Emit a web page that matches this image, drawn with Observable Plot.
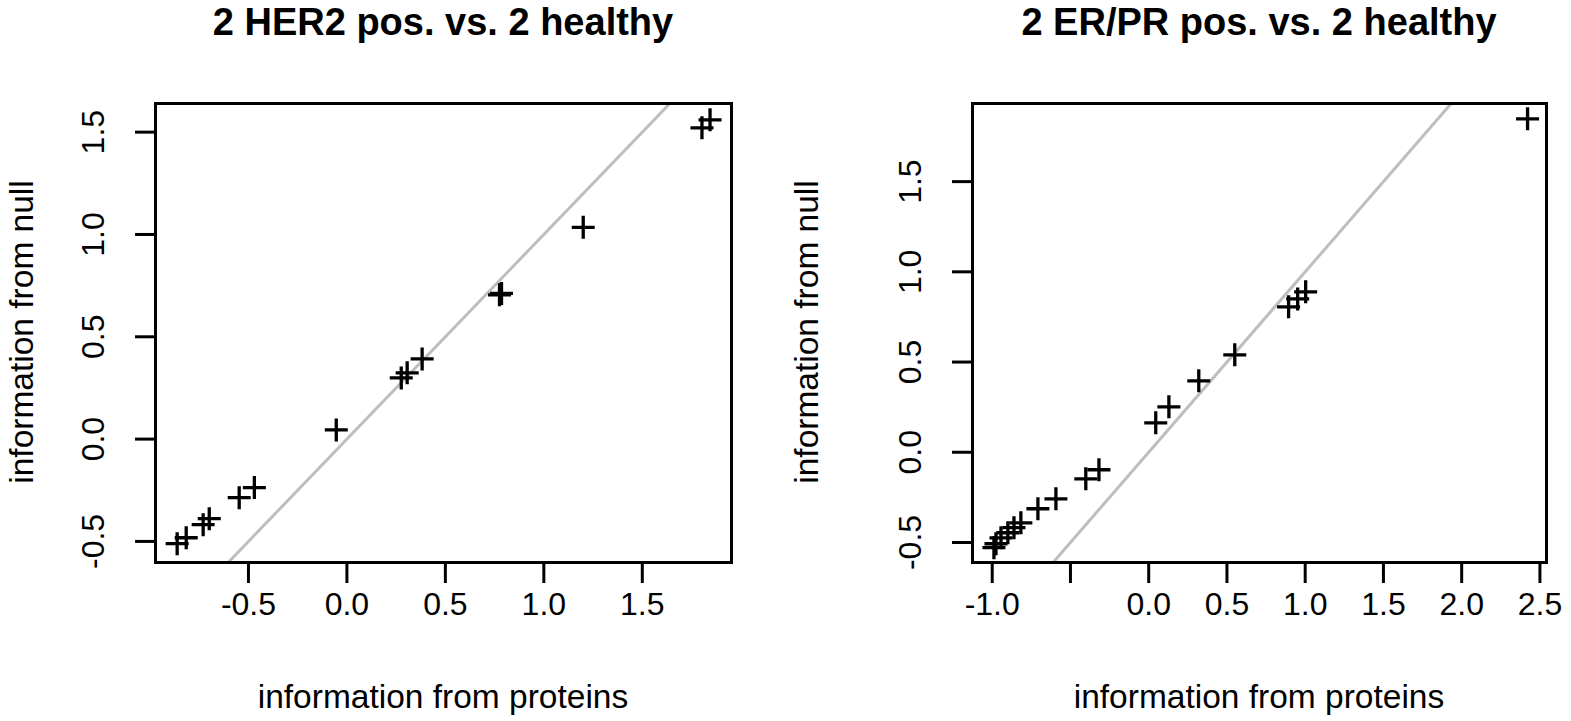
<!DOCTYPE html>
<html>
<head>
<meta charset="utf-8">
<script src="https://cdn.jsdelivr.net/npm/d3@7"></script>
<script src="https://cdn.jsdelivr.net/npm/@observablehq/plot@0.6"></script>
<style>
  html, body { margin: 0; padding: 0; background: #fff; }
  #wrap { position: relative; width: 1571px; height: 721px; overflow: hidden; font-family: "Liberation Sans", Arial, sans-serif; color: #000; }
  .title { position: absolute; text-align: center; font-weight: bold; font-size: 38px; line-height: 44px; white-space: nowrap; }
  .xlab { position: absolute; text-align: center; font-size: 33.5px; line-height: 38px; white-space: nowrap; }
  .ylab { position: absolute; font-size: 33.5px; line-height: 38px; white-space: nowrap; transform-origin: center center; }
  .panel { position: absolute; }
</style>
</head>
<body>
<div id="wrap"></div>
<script>
// ---------- data ----------
const titles = ["2 HER2 pos. vs. 2 healthy", "2 ER/PR pos. vs. 2 healthy"];
const xLabel = "information from proteins";
const yLabel = "information from null";

// panel 1: HER2 positive vs healthy
const her2X = [1.803, 1.844, 1.200, 0.775, 0.785, 0.276, 0.306, 0.382, -0.054, -0.470, -0.547, -0.699, -0.730, -0.816, -0.862];
const her2Y = [1.521, 1.560, 1.035, 0.705, 0.712, 0.299, 0.324, 0.392, 0.045, -0.237, -0.286, -0.389, -0.418, -0.482, -0.511];

// panel 2: ER/PR positive vs healthy
const erprX = [2.421, 1.003, 0.952, 0.894, 0.550, 0.320, 0.129, 0.045, -0.318, -0.402, -0.593, -0.708, -0.817, -0.861, -0.900, -0.944, -0.976, -0.989];
const erprY = [1.848, 0.889, 0.850, 0.806, 0.540, 0.396, 0.252, 0.163, -0.097, -0.147, -0.258, -0.313, -0.391, -0.418, -0.446, -0.474, -0.507, -0.529];

// axis ticks
const her2XTicks = [-0.5, 0.0, 0.5, 1.0, 1.5];
const her2YTicks = [-0.5, 0.0, 0.5, 1.0, 1.5];
const erprXTicks = [-1.0, -0.5, 0.0, 0.5, 1.0, 1.5, 2.0, 2.5];
const erprYTicks = [-0.5, 0.0, 0.5, 1.0, 1.5];
const erprXHidden = [-0.5]; // label dropped by R (overlap)

// axis domains (R's 4% padded ranges)
const her2XDomain = [-0.972, 1.953];
const her2YDomain = [-0.603, 1.640];
const erprXDomain = [-1.126, 2.542];
const erprYDomain = [-0.611, 1.933];

// ---------- drawing ----------
const plusSymbol = {
  draw(ctx, size) {
    const r = Math.sqrt(size / Math.PI);
    ctx.moveTo(-r, 0); ctx.lineTo(r, 0);
    ctx.moveTo(0, -r); ctx.lineTo(0, r);
  }
};

const fmt = d => d.toFixed(1);
const wrap = document.getElementById("wrap");
const svgTop = 60, svgH = 661;

function panel({left, width, mL, mR, xs, ys, xDom, yDom, xTicks, yTicks, hidden = [], title}) {
  const pts = xs.map((x, i) => ({x, y: ys[i]}));
  const lo = Math.min(xDom[0], yDom[0]) - 1, hi = Math.max(xDom[1], yDom[1]) + 1;
  const ident = [lo, hi].map(v => ({x: v, y: v}));
  const chart = Plot.plot({
    width, height: svgH,
    marginLeft: mL, marginRight: mR, marginTop: 43, marginBottom: 159,
    style: {fontFamily: "'Liberation Sans', Arial, sans-serif", fontSize: "32px", color: "#000", background: "#fff", overflow: "visible"},
    x: {domain: xDom},
    y: {domain: yDom},
    marks: [
      Plot.line(ident, {x: "x", y: "y", stroke: "#bebebe", strokeWidth: 3, clip: true}),
      Plot.dot(pts, {x: "x", y: "y", symbol: plusSymbol, r: 11.5, fill: "none", stroke: "#000", strokeWidth: 3.3}),
      Plot.frame({stroke: "#000", strokeWidth: 3}),
      Plot.axisX({ticks: xTicks, tickSize: 21, tickPadding: 9, strokeWidth: 3, fontSize: 32, label: null,
                  tickFormat: d => hidden.includes(d) ? "" : fmt(d)}),
      Plot.axisY({ticks: yTicks, tickSize: 20, tickPadding: 32, tickRotate: -90, strokeWidth: 3, fontSize: 32, label: null,
                  tickFormat: fmt})
    ]
  });
  const holder = document.createElement("div");
  holder.className = "panel";
  holder.style.left = left + "px";
  holder.style.top = svgTop + "px";
  holder.appendChild(chart);
  wrap.appendChild(holder);

  const boxL = left + mL, boxR = left + width - mR;
  const t = document.createElement("div");
  t.className = "title";
  t.textContent = title;
  t.style.left = boxL + "px"; t.style.width = (boxR - boxL) + "px"; t.style.top = "0px";
  wrap.appendChild(t);

  const xl = document.createElement("div");
  xl.className = "xlab";
  xl.textContent = xLabel;
  xl.style.left = boxL + "px"; xl.style.width = (boxR - boxL) + "px"; xl.style.top = "678px";
  wrap.appendChild(xl);

  const yl = document.createElement("div");
  yl.className = "ylab";
  yl.textContent = yLabel;
  wrap.appendChild(yl);
  const w = yl.offsetWidth, h = yl.offsetHeight;
  const cx = left + 21, cy = 332;
  yl.style.left = (cx - w / 2) + "px";
  yl.style.top = (cy - h / 2) + "px";
  yl.style.transform = "rotate(-90deg)";
}

panel({left: 0, width: 785, mL: 155, mR: 54, xs: her2X, ys: her2Y, xDom: her2XDomain, yDom: her2YDomain,
       xTicks: her2XTicks, yTicks: her2YTicks, title: titles[0]});
panel({left: 785, width: 786, mL: 187, mR: 25, xs: erprX, ys: erprY, xDom: erprXDomain, yDom: erprYDomain,
       xTicks: erprXTicks, yTicks: erprYTicks, hidden: erprXHidden, title: titles[1]});
</script>
</body>
</html>
